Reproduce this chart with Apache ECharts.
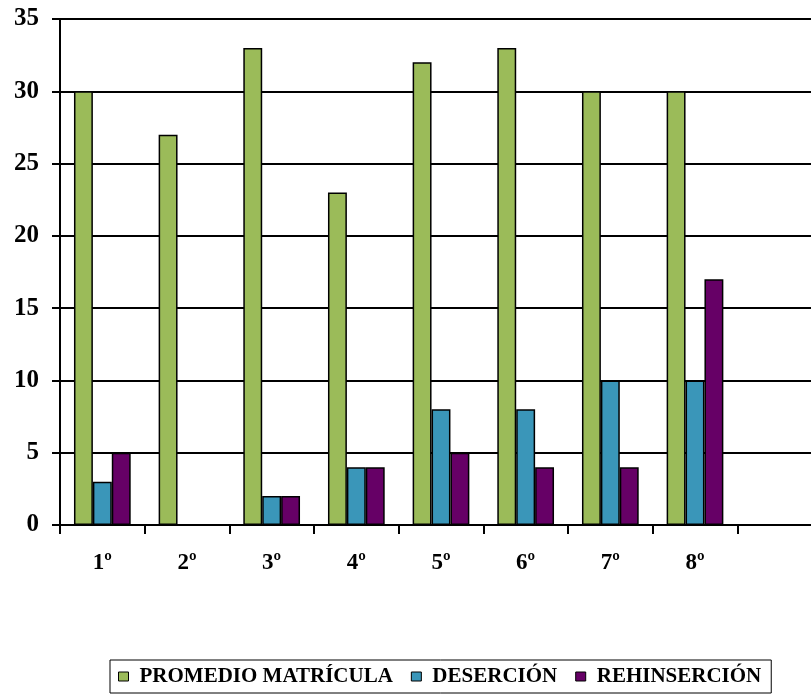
<!DOCTYPE html>
<html>
<head>
<meta charset="utf-8">
<script src="https://cdn.jsdelivr.net/npm/echarts@6/dist/echarts.min.js"></script>
<style>
  html, body { margin: 0; padding: 0; background: #fff; overflow: hidden; }
  /* el area de trazado sigue fuera del borde derecho, como en el original */
  #chart { width: 822px; height: 695px; }
</style>
</head>
<body>
<div id="chart"></div>
<script>
// datos
var categories = ['1º', '2º', '3º', '4º', '5º', '6º', '7º', '8º', '']
var matricula = [30, 27, 33, 23, 32, 33, 30, 30, null]
var desercion = [3, null, 2, 4, 8, 8, 10, 10, null]
var rehinsercion = [5, null, 2, 4, 5, 4, 4, 17, null]
var seriesNames = ['PROMEDIO MATRÍCULA', 'DESERCIÓN', 'REHINSERCIÓN']
var colors = ['#9BBB59', '#3A96B9', '#660066']

var font = 'Liberation Serif'
var chart = echarts.init(document.getElementById('chart'))

function barSeries(name, data) {
  return {
    name: name,
    type: 'bar',
    data: data,
    barGap: '0%',
    barCategoryGap: '33%',
    itemStyle: { borderColor: '#000', borderWidth: 1.5 }
  }
}

chart.setOption({
  backgroundColor: '#fff',
  color: colors,
  animation: false,
  grid: {
    left: 60,
    top: 19,
    bottom: 170,
    right: 0,
    containLabel: false
  },
  legend: {
    left: 110,
    top: 660,
    itemWidth: 10,
    itemHeight: 9,
    itemGap: 18,
    padding: [6, 10, 6, 8],
    borderColor: '#000',
    borderWidth: 1,
    icon: 'rect',
    itemStyle: { borderColor: '#000', borderWidth: 1 },
    textStyle: {
      fontFamily: font,
      fontWeight: 'bold',
      fontSize: 21,
      color: '#000',
      padding: [0, 0, 0, 6]
    },
    data: seriesNames
  },
  xAxis: {
    type: 'category',
    data: categories,
    axisLine: { lineStyle: { color: '#000', width: 2 } },
    axisTick: { show: true, length: 9, lineStyle: { color: '#000', width: 2 } },
    axisLabel: {
      interval: 0,
      margin: 27,
      fontFamily: font,
      fontWeight: 'bold',
      fontSize: 23,
      color: '#000'
    }
  },
  yAxis: {
    type: 'value',
    min: 0,
    max: 35,
    interval: 5,
    axisLine: { show: true, lineStyle: { color: '#000', width: 2 } },
    axisTick: { show: true, length: 8, lineStyle: { color: '#000', width: 2 } },
    splitLine: { lineStyle: { color: '#000', width: 2 } },
    axisLabel: {
      margin: 21,
      fontFamily: font,
      fontWeight: 'bold',
      fontSize: 25,
      color: '#000'
    }
  },
  series: [
    barSeries(seriesNames[0], matricula),
    barSeries(seriesNames[1], desercion),
    barSeries(seriesNames[2], rehinsercion)
  ]
})
</script>
</body>
</html>
